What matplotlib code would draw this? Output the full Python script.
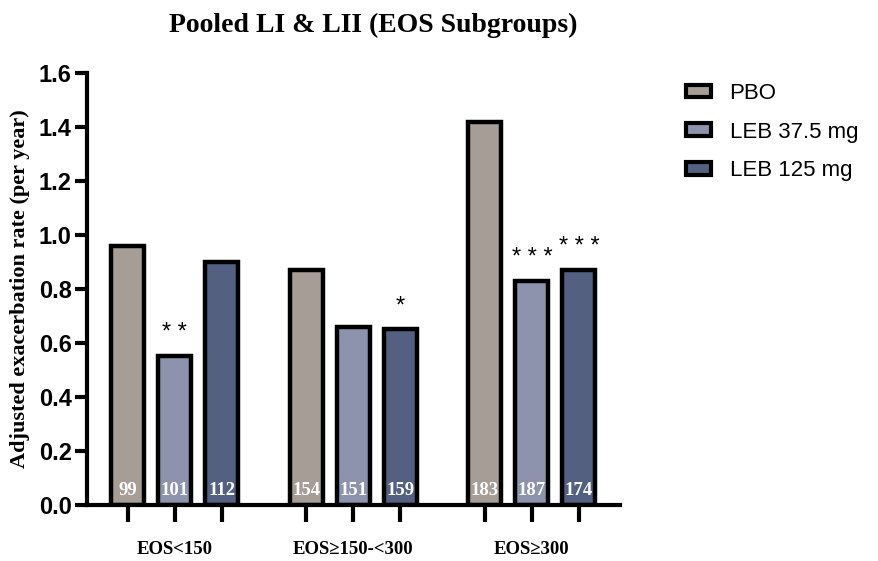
import matplotlib
matplotlib.use("Agg")
import matplotlib.pyplot as plt
import numpy as np
from matplotlib.patches import Patch

groups = ["EOS<150", "EOS≥150-<300", "EOS≥300"]
treatments = ["PBO", "LEB 37.5 mg", "LEB 125 mg"]
rates = {
    "PBO": [0.96, 0.87, 1.42],
    "LEB 37.5 mg": [0.55, 0.66, 0.83],
    "LEB 125 mg": [0.90, 0.65, 0.87],
}
counts = {
    "PBO": [99, 154, 183],
    "LEB 37.5 mg": [101, 151, 187],
    "LEB 125 mg": [112, 159, 174],
}
stars = {
    "PBO": ["", "", ""],
    "LEB 37.5 mg": ["**", "", "***"],
    "LEB 125 mg": ["", "*", "***"],
}
colors = ["#a59d96", "#8d92ad", "#536082"]

fig = plt.figure(figsize=(8.79, 5.61), dpi=100)
ax = fig.add_axes([0.099, 0.10, 0.606, 0.77])

group_gap = 3.8
width = 0.7
serif = ["Liberation Serif", "DejaVu Serif"]
sans = ["Liberation Sans", "DejaVu Sans"]

positions = []
for i, t in enumerate(treatments):
    xs = np.arange(len(groups)) * group_gap + i
    positions.extend(xs)
    ax.bar(xs, rates[t], width=width, color=colors[i], edgecolor="black",
           linewidth=3.2, label=t, zorder=2)
    for x, n in zip(xs, counts[t]):
        ax.text(x, 0.055, str(n), ha="center", va="center", color="white",
                fontsize=13.5, fontweight="bold", family=serif, zorder=3)
    for x, v, s in zip(xs, rates[t], stars[t]):
        if s:
            ax.text(x, v + 0.045, " ".join(s), ha="center", va="bottom",
                    color="black", fontsize=17, family=sans, zorder=3)

ax.set_xlim(-0.87, 10.47)
ax.set_ylim(0, 1.6)
ax.set_yticks(np.arange(0, 1.61, 0.2))
ax.set_yticklabels([f"{v:.1f}" for v in np.arange(0, 1.61, 0.2)],
                   fontsize=17, fontweight="bold", family=sans)

ax.set_xticks(sorted(positions))
ax.set_xticklabels([])
ax.tick_params(axis="x", length=12, width=3, direction="out")
ax.tick_params(axis="y", length=9, width=3, direction="out", pad=2)

for g, name in enumerate(groups):
    ax.text(g * group_gap + 1, -0.135, name, ha="center", va="top",
            fontsize=13.5, fontweight="bold", family=serif,
            transform=ax.transData)

for side in ["top", "right"]:
    ax.spines[side].set_visible(False)
for side in ["left", "bottom"]:
    ax.spines[side].set_linewidth(3)

ax.set_ylabel("Adjusted exacerbation rate (per year)", fontsize=16,
              fontweight="bold", family=serif, labelpad=6)

fig.text(0.425, 0.955, "Pooled LI & LII (EOS Subgroups)", ha="center",
         va="center", fontsize=20, fontweight="bold", family=serif)

handles = [Patch(facecolor=c, edgecolor="black", linewidth=3, label=t)
           for c, t in zip(colors, treatments)]
leg = fig.legend(handles=handles, loc="upper left",
                 bbox_to_anchor=(0.758, 0.888), frameon=False,
                 prop={"family": sans, "size": 16},
                 handlelength=1.1, handleheight=0.5, labelspacing=0.8,
                 handletextpad=0.85)

fig.savefig("out.png", dpi=100)
